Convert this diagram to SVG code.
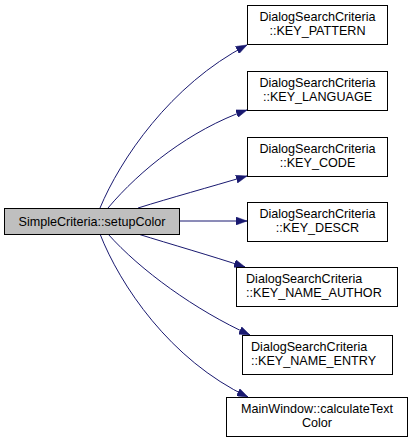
<svg xmlns="http://www.w3.org/2000/svg" width="413" height="444" viewBox="0 0 413 444">
<style>
.box{fill:#ffffff;stroke:#000000;stroke-width:1}
.root{fill:#bfbfbf;stroke:#000000;stroke-width:1}
text{font-family:"Liberation Sans",Arial,sans-serif;font-size:12.6px;fill:#000000}
.c{text-anchor:middle}
.edge{fill:none;stroke:#191970;stroke-width:1;marker-end:url(#arr)}
</style>
<defs>
<marker id="arr" viewBox="0 0 11 8" refX="11" refY="4" markerWidth="11" markerHeight="8" markerUnits="userSpaceOnUse" orient="auto">
<path d="M0,0 L11,4 L0,8 z" fill="#191970" stroke="#191970" stroke-width="0.5"/>
</marker>
</defs>
<rect width="413" height="444" fill="#ffffff"/>
<g id="connectors">
<path class="edge" d="M100,208 C120,160 170,85 247,45"/>
<path class="edge" d="M108,208 C140,170 190,130 247,110"/>
<path class="edge" d="M138,208 C170,198 210,187 247,176"/>
<path class="edge" d="M179,221 L247,221"/>
<path class="edge" d="M138,234 C170,244 212,256 245,267"/>
<path class="edge" d="M108,234 C140,270 195,310 250,335"/>
<path class="edge" d="M100,234 C120,285 170,360 248,397"/>
</g>
<g id="root">
<rect class="root" x="4.5" y="208.5" width="175" height="26"/>
<text class="c" x="92" y="226">SimpleCriteria::setupColor</text>
</g>
<g id="n1">
<rect class="box" x="247.5" y="5.5" width="140" height="39"/>
<text class="c" x="317.5" y="21">DialogSearchCriteria</text>
<text class="c" x="317.5" y="35">::KEY_PATTERN</text>
</g>
<g id="n2">
<rect class="box" x="247.5" y="71.5" width="140" height="39"/>
<text class="c" x="317.5" y="87">DialogSearchCriteria</text>
<text class="c" x="317.5" y="101">::KEY_LANGUAGE</text>
</g>
<g id="n3">
<rect class="box" x="247.5" y="137.5" width="140" height="39"/>
<text class="c" x="317.5" y="153">DialogSearchCriteria</text>
<text class="c" x="317.5" y="167">::KEY_CODE</text>
</g>
<g id="n4">
<rect class="box" x="247.5" y="202.5" width="140" height="39"/>
<text class="c" x="317.5" y="218">DialogSearchCriteria</text>
<text class="c" x="317.5" y="232">::KEY_DESCR</text>
</g>
<g id="n5">
<rect class="box" x="236.5" y="267.5" width="161" height="39"/>
<text x="246" y="283">DialogSearchCriteria</text>
<text x="246" y="297">::KEY_NAME_AUTHOR</text>
</g>
<g id="n6">
<rect class="box" x="242.5" y="335.5" width="150" height="39"/>
<text x="251" y="351">DialogSearchCriteria</text>
<text x="251" y="365">::KEY_NAME_ENTRY</text>
</g>
<g id="n7">
<rect class="box" x="226.5" y="397.5" width="181" height="39"/>
<text class="c" x="317" y="413">MainWindow::calculateText</text>
<text class="c" x="317" y="427">Color</text>
</g>
</svg>
